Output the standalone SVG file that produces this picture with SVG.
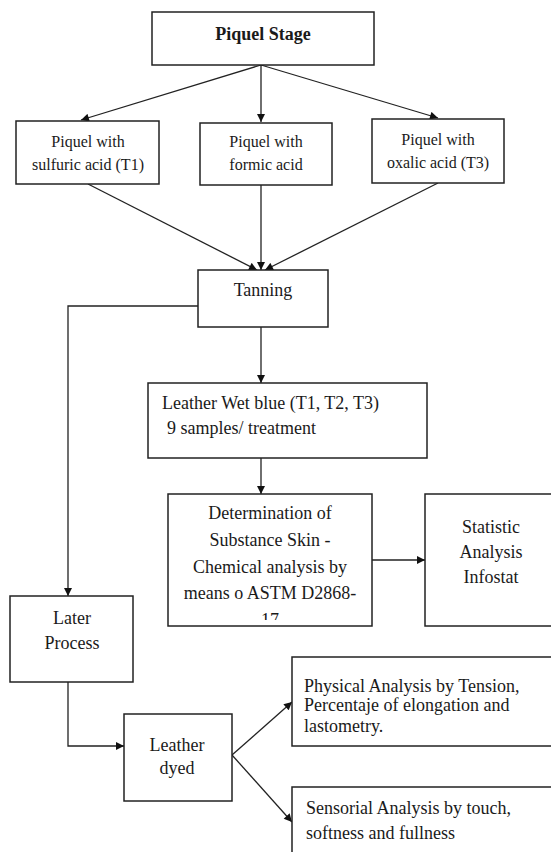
<svg xmlns="http://www.w3.org/2000/svg" width="551" height="852" viewBox="0 0 551 852">
<style>
.box{fill:#fff;stroke:#222;stroke-width:1.5}
.t{font-family:"Liberation Serif","Times New Roman",serif;font-size:18px;fill:#1a1a1a}
.s{font-size:16px}
.c{text-anchor:middle}
.b{font-weight:bold}
.ln{fill:none;stroke:#222;stroke-width:1.3}
</style>
<defs>
<marker id="ah" viewBox="0 0 10 10" refX="10" refY="5" markerUnits="userSpaceOnUse" markerWidth="9" markerHeight="8" orient="auto">
<path d="M0,0 L10,5 L0,10 z" fill="#111"/>
</marker>
<clipPath id="detclip"><rect x="168" y="494" width="204" height="126"/></clipPath>
</defs>
<rect width="551" height="852" fill="#fff"/>
<g id="connectors">
<line class="ln" x1="261" y1="65" x2="81" y2="120" marker-end="url(#ah)"/>
<line class="ln" x1="261" y1="65" x2="261" y2="122" marker-end="url(#ah)"/>
<line class="ln" x1="261" y1="65" x2="438" y2="118" marker-end="url(#ah)"/>
<line class="ln" x1="88" y1="184" x2="257" y2="270" marker-end="url(#ah)"/>
<line class="ln" x1="261" y1="185" x2="261" y2="270" marker-end="url(#ah)"/>
<line class="ln" x1="438" y1="183" x2="265" y2="270" marker-end="url(#ah)"/>
<line class="ln" x1="261" y1="327" x2="261" y2="383" marker-end="url(#ah)"/>
<line class="ln" x1="261" y1="458" x2="261" y2="494" marker-end="url(#ah)"/>
<line class="ln" x1="372" y1="560" x2="425" y2="560" marker-end="url(#ah)"/>
<polyline class="ln" points="198,306 68,306 68,596" marker-end="url(#ah)"/>
<polyline class="ln" points="68,682 68,746 124,746" marker-end="url(#ah)"/>
<line class="ln" x1="232" y1="755" x2="292" y2="702" marker-end="url(#ah)"/>
<line class="ln" x1="232" y1="755" x2="292" y2="822" marker-end="url(#ah)"/>
</g>
<g id="piquel-stage">
<rect class="box" x="152" y="12" width="222" height="53"/>
<text class="t b c" x="263" y="40">Piquel Stage</text>
</g>
<g id="piquel-sulfuric">
<rect class="box" x="16" y="121" width="143" height="63"/>
<text class="t s c" x="88" y="147">Piquel with</text>
<text class="t s c" x="88" y="170">sulfuric acid (T1)</text>
</g>
<g id="piquel-formic">
<rect class="box" x="200" y="123" width="132" height="62"/>
<text class="t s c" x="266" y="147">Piquel with</text>
<text class="t s c" x="266" y="170">formic acid</text>
</g>
<g id="piquel-oxalic">
<rect class="box" x="372" y="119" width="132" height="64"/>
<text class="t s c" x="438" y="145">Piquel with</text>
<text class="t s c" x="438" y="168">oxalic acid (T3)</text>
</g>
<g id="tanning">
<rect class="box" x="198" y="270" width="130" height="57"/>
<text class="t c" x="263" y="296">Tanning</text>
</g>
<g id="wet-blue">
<rect class="box" x="148" y="383" width="279" height="75"/>
<text class="t" x="162" y="409">Leather Wet blue (T1, T2, T3)</text>
<text class="t" x="167" y="434"> 9 samples/ treatment</text>
</g>
<g id="determination">
<rect class="box" x="168" y="494" width="204" height="132"/>
<g clip-path="url(#detclip)">
<text class="t c" x="270" y="519">Determination of</text>
<text class="t c" x="270" y="546">Substance Skin -</text>
<text class="t c" x="270" y="573">Chemical analysis by</text>
<text class="t c" x="270" y="599">means o ASTM D2868-</text>
<text class="t c" x="270" y="626">17</text>
</g>
</g>
<g id="statistic">
<rect class="box" x="425" y="494" width="140" height="132"/>
<text class="t c" x="491" y="533">Statistic</text>
<text class="t c" x="491" y="558">Analysis</text>
<text class="t c" x="491" y="583">Infostat</text>
</g>
<g id="later-process">
<rect class="box" x="10" y="596" width="123" height="86"/>
<text class="t c" x="72" y="624">Later</text>
<text class="t c" x="72" y="649">Process</text>
</g>
<g id="leather-dyed">
<rect class="box" x="124" y="714" width="108" height="87"/>
<text class="t c" x="177" y="751">Leather</text>
<text class="t c" x="177" y="774">dyed</text>
</g>
<g id="physical">
<rect class="box" x="292" y="657" width="270" height="89"/>
<text class="t" x="304" y="692">Physical Analysis by Tension,</text>
<text class="t" x="304" y="711">Percentaje of elongation and</text>
<text class="t" x="304" y="732">lastometry.</text>
</g>
<g id="sensorial">
<rect class="box" x="292" y="787" width="270" height="80"/>
<text class="t" x="306" y="814">Sensorial Analysis by touch,</text>
<text class="t" x="306" y="839">softness and fullness</text>
</g>
</svg>
